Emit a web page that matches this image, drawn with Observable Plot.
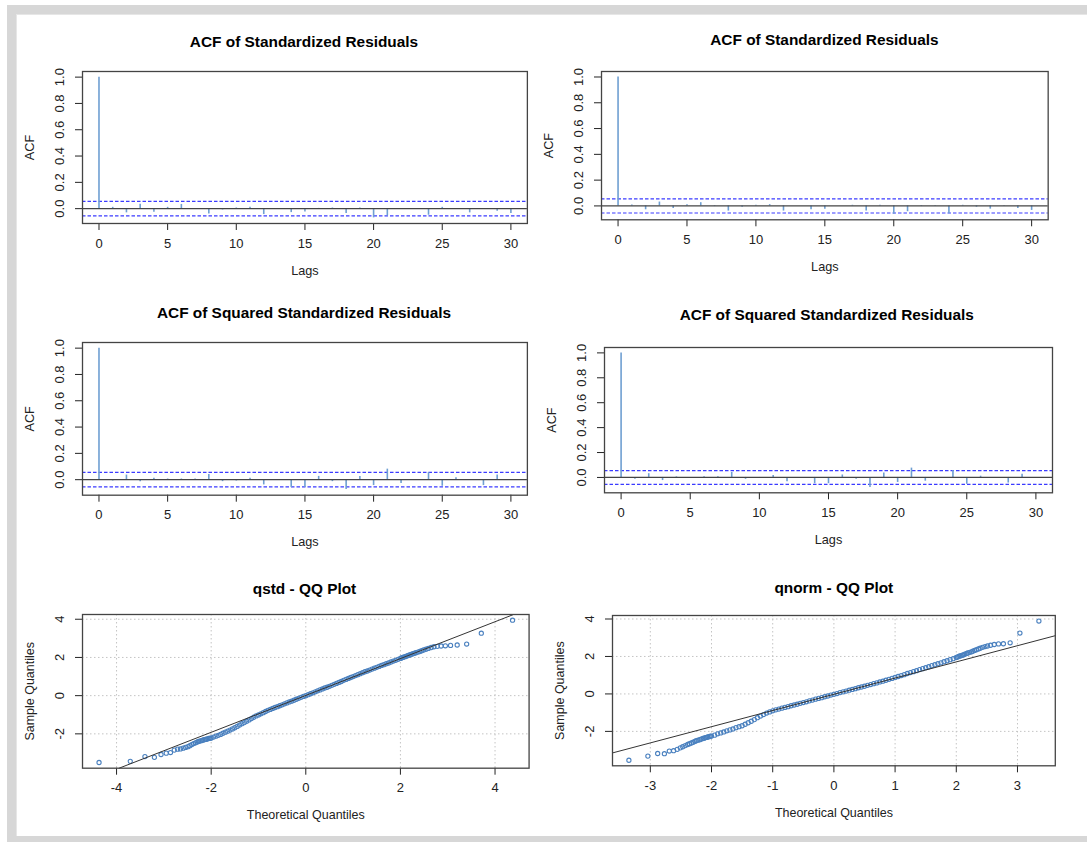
<!DOCTYPE html>
<html><head><meta charset="utf-8">
<script src="https://cdn.jsdelivr.net/npm/d3@7"></script>
<script src="https://cdn.jsdelivr.net/npm/@observablehq/plot@0.6"></script>
<style>
html,body{margin:0;padding:0;background:#fff;}
body{width:1087px;height:842px;overflow:hidden;position:relative;font-family:"Liberation Sans",Arial,sans-serif;}
#outer{position:absolute;left:7px;top:5px;width:1080px;height:837px;background:#d7d7d7;}
#inner{position:absolute;left:16px;top:14px;width:1071px;height:822px;background:#fff;border-top:1px solid #e6e6e6;border-left:1px solid #e6e6e6;box-sizing:border-box;}
.panel{position:absolute;}
.panel svg{overflow:visible;}
.title{position:absolute;font-weight:bold;font-size:15.4px;color:#000;transform:translate(-50%,-50%);white-space:nowrap;line-height:1;}
</style></head><body>
<div id="outer"></div><div id="inner"></div>
<div id="root"></div>
<script>
// ---------- data ----------
const lags = [0,1,2,3,4,5,6,7,8,9,10,11,12,13,14,15,16,17,18,19,20,21,22,23,24,25,26,27,28,29,30];
const acfStdLeft  = [1,0.01,-0.032,0.033,-0.027,0.01,0.032,-0.005,-0.04,-0.01,0.005,0.01,-0.045,-0.003,-0.03,-0.025,0.002,0.005,-0.037,0.005,-0.07,-0.055,-0.005,-0.005,-0.05,0.01,-0.005,-0.032,0,-0.02,-0.037];
const acfStdRight = [1,0.008,-0.03,0.03,-0.02,0.01,0.025,-0.005,-0.04,-0.01,0.005,0.01,-0.04,0,-0.03,-0.025,0,0.005,-0.04,0.005,-0.065,-0.045,-0.005,-0.005,-0.06,0.005,-0.01,-0.025,-0.005,-0.02,-0.035];
const acfSqLeft   = [1,-0.01,0.035,-0.015,0.01,0.005,0.005,0.005,0.04,-0.015,-0.01,0.01,-0.04,0,-0.06,-0.06,0.025,-0.015,-0.075,0.025,-0.045,0.08,-0.03,0,0.055,-0.05,0.015,0,-0.045,0.035,-0.005];
const acfSqRight  = [1,-0.015,0.03,-0.025,0.005,0,0.005,0.005,0.04,-0.015,-0.005,0.015,-0.035,0,-0.05,-0.05,0.02,-0.015,-0.08,0.035,-0.04,0.075,-0.03,0,0.055,-0.055,0.01,0,-0.045,0.025,-0.005];
const acfBand = 0.055;
const acfXTicks = [0,5,10,15,20,25,30];
const acfYTicks = [0,0.2,0.4,0.6,0.8,1.0];

// QQ points: [theoretical quantile, sample quantile]
const qstdPoints = [[-4.37,-3.50],[-3.71,-3.44],[-3.40,-3.19],[-3.20,-3.23],[-3.06,-3.08],[-2.95,-3.01],[-2.86,-2.98],[-2.78,-2.85],[-2.71,-2.80],[-2.65,-2.79],[-2.59,-2.75],[-2.54,-2.71],[-2.49,-2.67],[-2.45,-2.62],[-2.41,-2.56],[-2.37,-2.51],[-2.33,-2.47],[-2.30,-2.43],[-2.27,-2.40],[-2.24,-2.38],[-2.21,-2.36],[-2.18,-2.33],[-2.15,-2.31],[-2.12,-2.29],[-2.10,-2.28],[-2.07,-2.26],[-2.05,-2.24],[-2.02,-2.23],
[-2.00,-2.22],[-1.95,-2.17],[-1.90,-2.12],[-1.85,-2.08],[-1.80,-2.03],[-1.75,-1.97],[-1.70,-1.91],[-1.65,-1.86],[-1.60,-1.80],[-1.55,-1.74],[-1.50,-1.68],[-1.45,-1.61],[-1.40,-1.54],[-1.35,-1.47],[-1.30,-1.41],[-1.25,-1.34],[-1.20,-1.27],[-1.15,-1.20],[-1.10,-1.13],[-1.05,-1.06],[-1.00,-1.01],[-0.95,-0.95],[-0.90,-0.89],[-0.85,-0.83],[-0.80,-0.77],[-0.75,-0.72],[-0.70,-0.67],[-0.65,-0.62],[-0.60,-0.58],[-0.55,-0.53],[-0.50,-0.48],[-0.45,-0.43],[-0.40,-0.38],[-0.35,-0.33],[-0.30,-0.29],[-0.25,-0.24],[-0.20,-0.19],[-0.15,-0.14],[-0.10,-0.09],[-0.05,-0.04],[0.00,0.00],[0.05,0.05],[0.10,0.10],[0.15,0.15],[0.20,0.20],[0.25,0.25],[0.30,0.30],[0.35,0.35],[0.40,0.40],[0.45,0.44],[0.50,0.49],[0.55,0.54],[0.60,0.59],[0.65,0.64],[0.70,0.69],[0.75,0.74],[0.80,0.80],[0.85,0.85],[0.90,0.90],[0.95,0.95],[1.00,1.00],[1.05,1.05],[1.10,1.10],[1.15,1.15],[1.20,1.20],[1.25,1.25],[1.30,1.29],[1.35,1.34],[1.40,1.39],[1.45,1.44],[1.50,1.48],[1.55,1.53],[1.60,1.58],[1.65,1.62],[1.70,1.67],[1.75,1.71],[1.80,1.76],[1.85,1.81],[1.90,1.85],[1.95,1.90],[2.00,1.95],
[2.02,1.97],[2.05,2.00],[2.07,2.02],[2.10,2.04],[2.12,2.06],[2.15,2.09],[2.18,2.12],[2.21,2.14],[2.24,2.17],[2.27,2.20],[2.30,2.22],[2.33,2.25],[2.37,2.28],[2.41,2.31],[2.45,2.35],[2.49,2.39],[2.54,2.43],[2.59,2.47],[2.65,2.52],[2.71,2.56],[2.78,2.58],[2.86,2.60],[2.95,2.61],[3.06,2.63],[3.20,2.65],[3.40,2.70],[3.71,3.27],[4.37,3.95]];
const qnormPoints = [[-3.35,-3.54],[-3.04,-3.32],[-2.88,-3.18],[-2.77,-3.19],[-2.69,-3.05],[-2.62,-3.03],[-2.56,-2.96],[-2.51,-2.88],[-2.47,-2.82],[-2.43,-2.76],[-2.39,-2.70],[-2.36,-2.66],[-2.33,-2.62],[-2.30,-2.58],[-2.27,-2.53],[-2.25,-2.50],[-2.22,-2.47],[-2.19,-2.44],[-2.17,-2.41],[-2.14,-2.38],[-2.12,-2.36],[-2.10,-2.33],[-2.08,-2.32],[-2.06,-2.30],[-2.04,-2.28],[-2.02,-2.26],
[-2.00,-2.25],[-1.95,-2.20],[-1.90,-2.13],[-1.85,-2.08],[-1.80,-2.03],[-1.75,-1.97],[-1.70,-1.92],[-1.65,-1.87],[-1.60,-1.80],[-1.55,-1.75],[-1.50,-1.70],[-1.45,-1.62],[-1.40,-1.54],[-1.35,-1.46],[-1.30,-1.37],[-1.25,-1.27],[-1.20,-1.18],[-1.15,-1.10],[-1.10,-1.02],[-1.05,-0.96],[-1.00,-0.90],[-0.95,-0.85],[-0.90,-0.81],[-0.85,-0.76],[-0.80,-0.72],[-0.75,-0.68],[-0.70,-0.63],[-0.65,-0.59],[-0.60,-0.55],[-0.55,-0.50],[-0.50,-0.46],[-0.45,-0.42],[-0.40,-0.37],[-0.35,-0.33],[-0.30,-0.28],[-0.25,-0.24],[-0.20,-0.20],[-0.15,-0.15],[-0.10,-0.11],[-0.05,-0.06],[0.00,-0.02],[0.05,0.02],[0.10,0.07],[0.15,0.11],[0.20,0.15],[0.25,0.20],[0.30,0.24],[0.35,0.28],[0.40,0.33],[0.45,0.37],[0.50,0.41],[0.55,0.46],[0.60,0.50],[0.65,0.55],[0.70,0.59],[0.75,0.64],[0.80,0.68],[0.85,0.73],[0.90,0.78],[0.95,0.83],[1.00,0.88],[1.05,0.93],[1.10,0.98],[1.15,1.03],[1.20,1.09],[1.25,1.14],[1.30,1.19],[1.35,1.24],[1.40,1.30],[1.45,1.35],[1.50,1.40],[1.55,1.45],[1.60,1.51],[1.65,1.56],[1.70,1.61],[1.75,1.66],[1.80,1.72],[1.85,1.77],[1.90,1.83],[1.95,1.88],[2.00,1.95],
[2.02,1.97],[2.04,2.00],[2.06,2.03],[2.08,2.05],[2.10,2.07],[2.12,2.09],[2.14,2.12],[2.17,2.16],[2.19,2.19],[2.22,2.22],[2.25,2.25],[2.27,2.28],[2.30,2.32],[2.33,2.36],[2.36,2.40],[2.39,2.44],[2.43,2.49],[2.47,2.53],[2.51,2.56],[2.56,2.60],[2.62,2.64],[2.69,2.67],[2.77,2.68],[2.88,2.73],[3.04,3.25],[3.35,3.89]];
const qstdLine  = {intercept: 0.01,  slope: 0.965};
const qnormLine = {intercept: -0.02, slope: 0.865};
const qstdXTicks = [-4,-2,0,2,4];
const qnormXTicks = [-3,-2,-1,0,1,2,3];
const qqYTicks = [-2,0,2,4];

// ---------- layout ----------
const ML = 80, MR = 12, MT = 10, MB = 70;
const FONT = "'Liberation Sans', Arial, sans-serif";
const spikeColor = "#6f9fd2", bandColor = "#3b3bff", frameColor = "#444", pointColor = "#4a80bf";
const root = document.getElementById("root");

function place(svg, box) {
  const d = document.createElement("div");
  d.className = "panel";
  d.style.left = (box.x - ML) + "px";
  d.style.top = (box.y - MT) + "px";
  d.appendChild(svg);
  root.appendChild(d);
}
function title(text, cx, cy) {
  const d = document.createElement("div");
  d.className = "title";
  d.textContent = text;
  d.style.left = cx + "px";
  d.style.top = cy + "px";
  root.appendChild(d);
}
function baseStyle() {
  return {fontFamily: FONT, fontSize: "13px", color: "#222", background: "none", overflow: "visible"};
}

function acfPlot(values, box) {
  const data = lags.map((lag, i) => ({lag, acf: values[i]}));
  const lo = Math.min(d3.min(values), -acfBand), hi = 1;
  const yp = 0.04 * (hi - lo);
  const [l0, l1] = d3.extent(lags), xp = 0.04 * (l1 - l0);
  return Plot.plot({
    width: box.w + ML + MR, height: box.h + MT + MB,
    marginLeft: ML, marginRight: MR, marginTop: MT, marginBottom: MB,
    style: baseStyle(),
    x: {domain: [l0 - xp, l1 + xp], ticks: acfXTicks, tickSize: 7, tickPadding: 8, tickFormat: d => String(d), label: null},
    y: {domain: [lo - yp, hi + yp], ticks: acfYTicks, tickSize: 7, tickPadding: 12, tickRotate: -90, tickFormat: d3.format(".1f"), label: null},
    marks: [
      Plot.ruleY([acfBand, -acfBand], {stroke: bandColor, strokeWidth: 1.2, strokeDasharray: "3.5,2"}),
      Plot.ruleX(data, {x: "lag", y1: 0, y2: "acf", stroke: spikeColor, strokeWidth: 1.6}),
      Plot.ruleY([0], {stroke: frameColor, strokeWidth: 1.2}),
      Plot.frame({stroke: frameColor, strokeWidth: 1.3}),
      Plot.text(["Lags"], {frameAnchor: "bottom", dy: 47, lineAnchor: "middle", textAnchor: "middle", fontSize: 12.7, fill: "#222"}),
      Plot.text(["ACF"], {frameAnchor: "left", dx: -53, rotate: -90, lineAnchor: "middle", textAnchor: "middle", fontSize: 12.7, fill: "#222"})
    ]
  });
}

function qqPlot(points, line, box, xTicks) {
  const [x0, x1] = d3.extent(points, p => p[0]);
  const [y0, y1] = d3.extent(points, p => p[1]);
  const xd = [x0 - 0.04 * (x1 - x0), x1 + 0.04 * (x1 - x0)];
  const yd = [y0 - 0.04 * (y1 - y0), y1 + 0.04 * (y1 - y0)];
  // reference line, cut at the plot region
  const f = x => line.intercept + line.slope * x;
  const g = y => (y - line.intercept) / line.slope;
  const la = Math.max(xd[0], g(yd[0])), lb = Math.min(xd[1], g(yd[1]));
  const lineData = [la, lb].map(x => ({x, y: f(x)}));
  return Plot.plot({
    width: box.w + ML + MR, height: box.h + MT + MB,
    marginLeft: ML, marginRight: MR, marginTop: MT, marginBottom: MB,
    style: baseStyle(),
    x: {domain: xd, ticks: xTicks, tickSize: 7, tickPadding: 8, tickFormat: d => String(d), label: null},
    y: {domain: yd, ticks: qqYTicks, tickSize: 7, tickPadding: 12, tickRotate: -90, tickFormat: d => String(d), label: null},
    marks: [
      Plot.ruleX(xTicks, {stroke: "#c4c4c4", strokeWidth: 1, strokeDasharray: "1.5,2.5"}),
      Plot.ruleY(qqYTicks, {stroke: "#c4c4c4", strokeWidth: 1, strokeDasharray: "1.5,2.5"}),
      Plot.dot(points, {x: p => p[0], y: p => p[1], r: 2.1, stroke: pointColor, strokeWidth: 1.1, fill: "none"}),
      Plot.line(lineData, {x: "x", y: "y", stroke: "#333", strokeWidth: 1}),
      Plot.frame({stroke: frameColor, strokeWidth: 1.3}),
      Plot.text(["Theoretical Quantiles"], {frameAnchor: "bottom", dy: 47, lineAnchor: "middle", textAnchor: "middle", fontSize: 12.5, fill: "#222"}),
      Plot.text(["Sample Quantiles"], {frameAnchor: "left", dx: -53, rotate: -90, lineAnchor: "middle", textAnchor: "middle", fontSize: 12.5, fill: "#222"})
    ]
  });
}

const B1 = {x: 82.4, y: 71.3, w: 444.9, h: 152};
const B2 = {x: 601, y: 70.7, w: 446.7, h: 148.3};
const B3 = {x: 82.4, y: 342.3, w: 444.9, h: 152.7};
const B4 = {x: 603.5, y: 346.7, w: 448, h: 145.3};
const B5 = {x: 82.4, y: 614.3, w: 446.6, h: 153.7};
const B6 = {x: 612.2, y: 615, w: 442.8, h: 150.3};

place(acfPlot(acfStdLeft, B1), B1);
place(acfPlot(acfStdRight, B2), B2);
place(acfPlot(acfSqLeft, B3), B3);
place(acfPlot(acfSqRight, B4), B4);
place(qqPlot(qstdPoints, qstdLine, B5, qstdXTicks), B5);
place(qqPlot(qnormPoints, qnormLine, B6, qnormXTicks), B6);

title("ACF of Standardized Residuals", 304, 41.7);
title("ACF of Standardized Residuals", 824.4, 40);
title("ACF of Squared Standardized Residuals", 304, 312.7);
title("ACF of Squared Standardized Residuals", 826.8, 315);
title("qstd - QQ Plot", 304.5, 589);
title("qnorm - QQ Plot", 833.8, 588.3);
</script>
</body></html>
